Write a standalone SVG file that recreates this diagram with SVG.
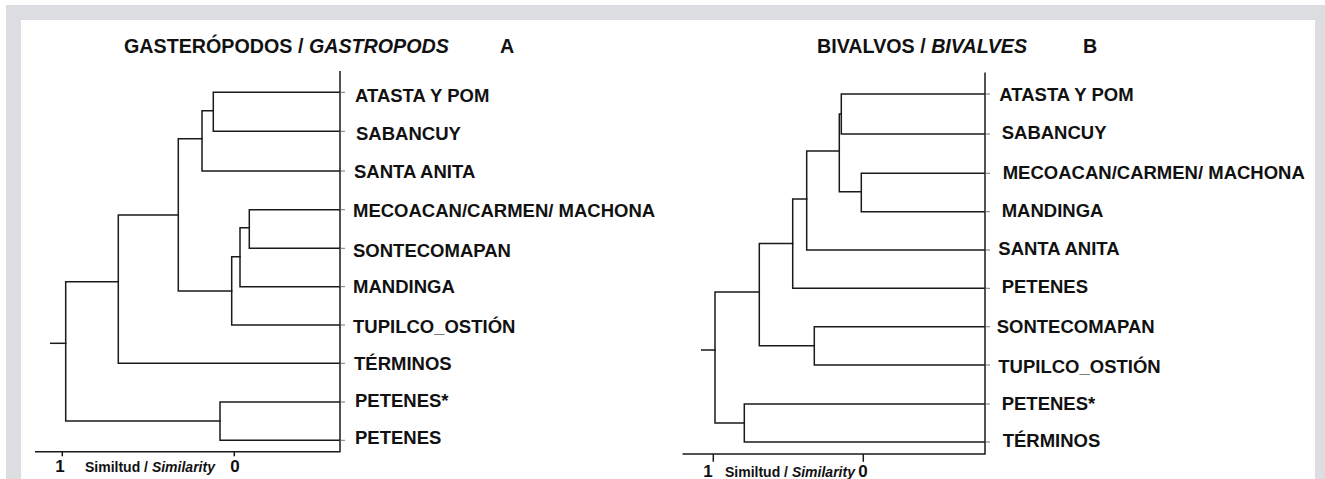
<svg xmlns="http://www.w3.org/2000/svg" width="1325" height="479" viewBox="0 0 1325 479">
<style>
.br{fill:none;stroke:#1a1a1a;stroke-width:1.5;stroke-linecap:square}
.tk{fill:none;stroke:#777;stroke-width:1}
.lb{font-family:"Liberation Sans",Arial,sans-serif;font-weight:bold;font-size:18.5px;fill:#111}
.tt{font-family:"Liberation Sans",Arial,sans-serif;font-weight:bold;font-size:19.7px;fill:#111}
.ax{font-family:"Liberation Sans",Arial,sans-serif;font-weight:bold;font-size:14px;fill:#111}
.num{font-family:"Liberation Sans",Arial,sans-serif;font-weight:bold;font-size:17px;fill:#111;text-anchor:middle}
.it{font-style:italic}
</style>
<rect x="0" y="0" width="1325" height="479" fill="#ffffff"/>
<rect x="6" y="5" width="1319" height="474" fill="#dcdde0"/>
<rect x="21" y="20" width="1294" height="459" fill="#ffffff"/>

<g id="titles">
<text class="tt" x="124" y="52.5">GASTERÓPODOS / <tspan class="it">GASTROPODS</tspan></text>
<text class="tt" x="500" y="52.5">A</text>
<text class="tt" x="817" y="52.5">BIVALVOS / <tspan class="it">BIVALVES</tspan></text>
<text class="tt" x="1083" y="52.5">B</text>
</g>

<g id="axes">
<path class="br" d="M340 71.7 V451.7 H35.7 M62.3 451.7 V455.5 M234.3 451.7 V455.5"/>
<path class="br" d="M985 73.3 V454 H683.3 M713.3 454 V461 M863.3 454 V461"/>
<text class="num" x="60" y="472">1</text>
<text class="ax" x="85" y="472">Similtud / <tspan class="it">Similarity</tspan></text>
<text class="num" x="235" y="472">0</text>
<text class="num" x="708" y="477">1</text>
<text class="ax" x="725" y="477">Similtud / <tspan class="it">Similarity</tspan></text>
<text class="num" x="863" y="477">0</text>
</g>

<g id="connectors">
<g id="dendroA">
<path class="br" d="M340 92.3 H213.3 V131.3 H340"/>
<path class="br" d="M213.3 110.7 H202 V171 H340"/>
<path class="br" d="M340 209.7 H249.3 V248.3 H340"/>
<path class="br" d="M249.3 227.7 H240 V286.7 H340"/>
<path class="br" d="M240 256.7 H231.7 V325 H340"/>
<path class="br" d="M202 138.7 H178.3 V291 H231.7"/>
<path class="br" d="M178.3 215 H118.3 V363.3 H340"/>
<path class="br" d="M340 402 H220 V440.3 H340"/>
<path class="br" d="M118.3 281.7 H65.7 V421 H220"/>
<path class="br" d="M50.7 343.3 H65.7"/>
<path class="tk" d="M340 92.3 h5 M340 131.3 h5 M340 171 h5 M340 209.7 h5 M340 248.3 h5 M340 286.7 h5 M340 325 h5 M340 363.3 h5 M340 402 h5 M340 440.3 h5"/>
</g>
<g id="dendroB">
<path class="br" d="M985 94 H841.3 V134 H985"/>
<path class="br" d="M985 173.3 H861.3 V211.7 H985"/>
<path class="br" d="M841.3 114 H839.3 V191.7 H861.3"/>
<path class="br" d="M839.3 151 H806.7 V250 H985"/>
<path class="br" d="M806.7 199 H792.7 V288.3 H985"/>
<path class="br" d="M985 326.7 H814.3 V365 H985"/>
<path class="br" d="M792.7 243.5 H759.3 V345.8 H814.3"/>
<path class="br" d="M985 404 H744.3 V442 H985"/>
<path class="br" d="M759.3 292 H715 V423 H744.3"/>
<path class="br" d="M701.7 350 H715"/>
<path class="tk" d="M985 94 h5 M985 134 h5 M985 173.3 h5 M985 211.7 h5 M985 250 h5 M985 288.3 h5 M985 326.7 h5 M985 365 h5 M985 404 h5 M985 442 h5"/>
</g>
</g>

<g id="leavesA">
<g id="a-atasta"><text class="lb" x="355" y="101.7">ATASTA Y POM</text></g>
<g id="a-sabancuy"><text class="lb" x="356" y="140">SABANCUY</text></g>
<g id="a-santaanita"><text class="lb" x="354" y="177.5">SANTA ANITA</text></g>
<g id="a-mecoacan"><text class="lb" x="353" y="216.7">MECOACAN/CARMEN/ MACHONA</text></g>
<g id="a-sontecomapan"><text class="lb" x="353" y="257">SONTECOMAPAN</text></g>
<g id="a-mandinga"><text class="lb" x="353" y="293.3">MANDINGA</text></g>
<g id="a-tupilco"><text class="lb" x="353" y="333">TUPILCO_OSTIÓN</text></g>
<g id="a-terminos"><text class="lb" x="354" y="369.5">TÉRMINOS</text></g>
<g id="a-petenes2"><text class="lb" x="355" y="407">PETENES*</text></g>
<g id="a-petenes"><text class="lb" x="355" y="444">PETENES</text></g>
</g>

<g id="leavesB">
<g id="b-atasta"><text class="lb" x="999.3" y="100.7">ATASTA Y POM</text></g>
<g id="b-sabancuy"><text class="lb" x="1001.7" y="139">SABANCUY</text></g>
<g id="b-mecoacan"><text class="lb" x="1002.7" y="179">MECOACAN/CARMEN/ MACHONA</text></g>
<g id="b-mandinga"><text class="lb" x="1001.7" y="217.3">MANDINGA</text></g>
<g id="b-santaanita"><text class="lb" x="998.3" y="255">SANTA ANITA</text></g>
<g id="b-petenes"><text class="lb" x="1001.7" y="293.3">PETENES</text></g>
<g id="b-sontecomapan"><text class="lb" x="996.7" y="333.3">SONTECOMAPAN</text></g>
<g id="b-tupilco"><text class="lb" x="998.3" y="372.7">TUPILCO_OSTIÓN</text></g>
<g id="b-petenes2"><text class="lb" x="1001.7" y="410">PETENES*</text></g>
<g id="b-terminos"><text class="lb" x="1002.7" y="446.7">TÉRMINOS</text></g>
</g>
</svg>
